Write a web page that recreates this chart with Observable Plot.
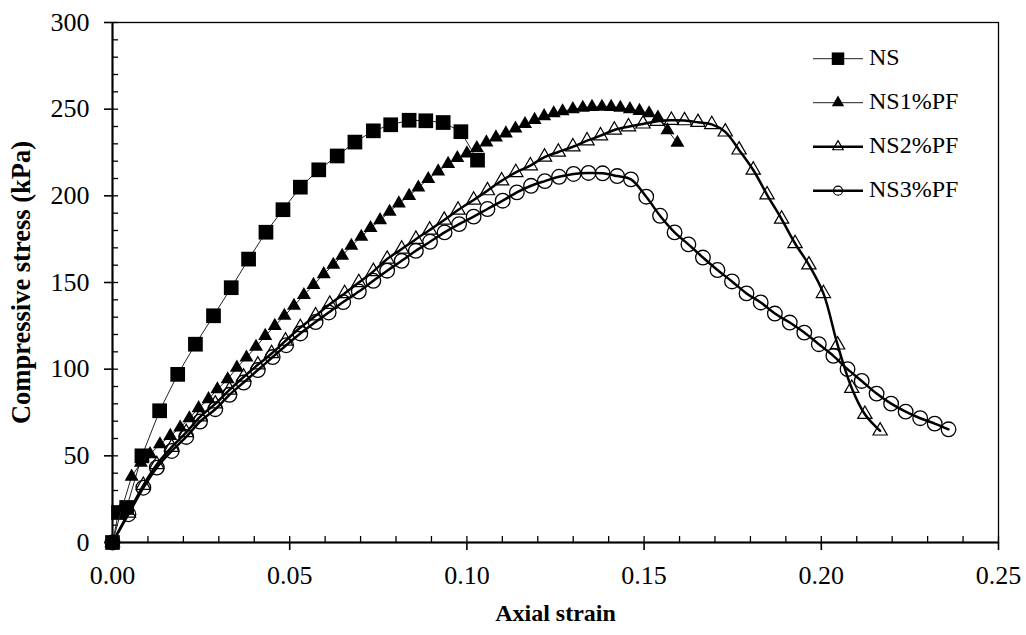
<!DOCTYPE html>
<html>
<head>
<meta charset="utf-8">
<script src="https://cdn.jsdelivr.net/npm/d3@7"></script>
<script src="https://cdn.jsdelivr.net/npm/@observablehq/plot@0.6"></script>
<style>
html, body { margin: 0; padding: 0; background: #fff; }
#chart { width: 1026px; height: 635px; }
</style>
</head>
<body>
<div id="chart"></div>
<script>
// ---------- data ----------
const seriesNames = ["NS", "NS1%PF", "NS2%PF", "NS3%PF"];

const nsStrain = [0, 0.0017, 0.004, 0.0083, 0.0133, 0.0184, 0.0234, 0.0285, 0.0335, 0.0384, 0.0433, 0.0481, 0.053, 0.0582, 0.0634, 0.0684, 0.0736, 0.0785, 0.0837, 0.0884, 0.0933, 0.0983, 0.103];
const nsStress = [0, 17.3, 20.2, 50, 76, 97, 114.4, 130.8, 147, 163.5, 179, 192, 205, 215, 223, 231, 237.5, 241, 243.6, 243.3, 242.3, 237, 220.6];

const ns1Strain = [0, 0.0027, 0.0054, 0.008, 0.0106, 0.0134, 0.0163, 0.0191, 0.0217, 0.0243, 0.0271, 0.0296, 0.0325, 0.0351, 0.0378, 0.0405, 0.0431, 0.0458, 0.0485, 0.0512, 0.054, 0.0567, 0.0596, 0.0623, 0.0648, 0.0674, 0.0702, 0.0728, 0.0755, 0.0782, 0.0808, 0.0837, 0.0863, 0.0891, 0.0919, 0.0947, 0.0973, 0.1, 0.1028, 0.1055, 0.1082, 0.111, 0.1137, 0.1164, 0.1191, 0.1218, 0.1245, 0.127, 0.1299, 0.1327, 0.1353, 0.1381, 0.1407, 0.1433, 0.146, 0.1487, 0.1514, 0.1539, 0.1566, 0.1594];
const ns1Stress = [0, 20, 38, 46, 51, 56.7, 61.5, 66.3, 71.7, 77.5, 82.7, 88.4, 94.2, 100.9, 106.7, 112.9, 119.2, 125, 130.8, 136.6, 142.8, 148.6, 154.8, 160.2, 165.4, 171.2, 176.4, 181.4, 186, 190.8, 195.6, 200, 204.8, 209.7, 214.1, 218.4, 221.8, 224.5, 227.6, 230.8, 233.7, 236, 238.8, 241.4, 243.8, 246, 247.6, 248.8, 250, 250.8, 251.3, 251.4, 251.3, 250.8, 250, 249, 247.6, 245.2, 237.8, 230.6];

const ns2Strain = [0, 0.0045, 0.0087, 0.0125, 0.0167, 0.0208, 0.0247, 0.029, 0.033, 0.037, 0.041, 0.0449, 0.0488, 0.053, 0.0573, 0.0613, 0.0655, 0.0695, 0.0736, 0.0775, 0.0816, 0.0856, 0.0895, 0.0936, 0.0975, 0.1019, 0.1058, 0.1098, 0.1138, 0.1179, 0.1219, 0.1258, 0.1299, 0.1339, 0.1377, 0.1416, 0.1456, 0.1497, 0.1537, 0.1577, 0.1614, 0.1652, 0.1691, 0.1729, 0.1768, 0.1808, 0.1847, 0.1888, 0.1926, 0.1965, 0.2006, 0.2046, 0.2086, 0.2123, 0.2166];
const ns2Stress = [0, 17, 33, 45, 55, 63.5, 72.5, 80, 88, 95.5, 102.5, 109, 116.3, 124, 130.8, 137.5, 143.7, 150, 156.4, 163.5, 169.3, 175, 180.3, 186, 191.8, 197.6, 203, 208.7, 213.5, 217.4, 222.4, 225.3, 228.3, 231.8, 234.7, 238, 239.9, 241.5, 243, 243.6, 243.4, 242.4, 241.2, 236.9, 226.5, 214.9, 200.6, 186.6, 172.5, 160.2, 143.7, 114, 89, 74, 64.4];

const ns3Strain = [0, 0.0045, 0.0087, 0.0125, 0.0167, 0.0208, 0.0247, 0.029, 0.033, 0.037, 0.041, 0.0452, 0.049, 0.053, 0.0573, 0.061, 0.0651, 0.0695, 0.0736, 0.0775, 0.0816, 0.0856, 0.0896, 0.0937, 0.0978, 0.1019, 0.1058, 0.1101, 0.1141, 0.1181, 0.122, 0.126, 0.1301, 0.1343, 0.1383, 0.1424, 0.1463, 0.1506, 0.1545, 0.1586, 0.1625, 0.1666, 0.1707, 0.1748, 0.1789, 0.1829, 0.1869, 0.1911, 0.1952, 0.1993, 0.2034, 0.2074, 0.2114, 0.2156, 0.2197, 0.2238, 0.2279, 0.232, 0.2359];
const ns3Stress = [0, 16.3, 31.6, 43.2, 52.8, 60.9, 69.8, 76.9, 85.2, 92.3, 99.5, 107, 113.8, 120.6, 127.2, 132.7, 138.7, 144.8, 151, 156.8, 162.5, 168.3, 173.5, 178.9, 183.7, 188, 192.4, 197.2, 202, 205.8, 208.5, 211, 212.6, 213.2, 213, 211.4, 209.5, 199.5, 188.5, 178.9, 172, 164.4, 157.2, 150.6, 143.7, 138.5, 132.1, 126.9, 121.1, 114.4, 107.7, 100, 93.2, 85.9, 80.1, 75.5, 71.7, 68.6, 65.3];

const xMajorTicks = [0, 0.05, 0.10, 0.15, 0.20, 0.25];
const xMinorTicks = [0, 0.01, 0.02, 0.03, 0.04, 0.05, 0.06, 0.07, 0.08, 0.09, 0.10, 0.11, 0.12, 0.13, 0.14, 0.15, 0.16, 0.17, 0.18, 0.19, 0.20, 0.21, 0.22, 0.23, 0.24, 0.25];
const yMajorTicks = [0, 50, 100, 150, 200, 250, 300];
const yMinorTicks = [0, 10, 20, 30, 40, 50, 60, 70, 80, 90, 100, 110, 120, 130, 140, 150, 160, 170, 180, 190, 200, 210, 220, 230, 240, 250, 260, 270, 280, 290, 300];
const xTitle = "Axial strain";
const yTitle = "Compressive stress (kPa)";

// ---------- build ----------
const rows = (xs, ys) => xs.map((x, i) => ({x, y: ys[i]}));
const NS = rows(nsStrain, nsStress);
const NS1 = rows(ns1Strain, ns1Stress);
const NS2 = rows(ns2Strain, ns2Stress);
const NS3 = rows(ns3Strain, ns3Stress);

const FONT = "'Liberation Serif', 'Times New Roman', serif";

const chart = Plot.plot({
  width: 1026,
  height: 635,
  marginLeft: 112,
  marginRight: 28,
  marginTop: 22,
  marginBottom: 93,
  style: {fontFamily: FONT, background: "white", color: "black", overflow: "visible"},
  x: {domain: [0, 0.25]},
  y: {domain: [0, 300]},
  marks: [
    Plot.frame({stroke: "black", strokeWidth: 1.3}),
    Plot.axisX({ticks: xMinorTicks, tickSize: -6, tickFormat: () => "", strokeWidth: 1.3, label: null}),
    Plot.axisX({ticks: xMajorTicks, tickSize: 8, tickPadding: 15, tickFormat: d3.format(".2f"), fontSize: 26, strokeWidth: 1.6, label: null}),
    Plot.axisY({ticks: yMinorTicks, tickSize: -6, tickFormat: () => "", strokeWidth: 1.3, label: null}),
    Plot.axisY({ticks: yMajorTicks, tickSize: 8, tickPadding: 15, tickFormat: d3.format("d"), fontSize: 26, strokeWidth: 1.6, label: null}),
    Plot.ruleX([0], {stroke: "black", strokeWidth: 2}),
    Plot.ruleY([0], {stroke: "black", strokeWidth: 2}),

    Plot.line(NS, {x: "x", y: "y", stroke: "#222", strokeWidth: 1}),
    Plot.dot(NS, {x: "x", y: "y", symbol: "square", r: 8.3, fill: "black", stroke: "none"}),

    Plot.line(NS1, {x: "x", y: "y", stroke: "#222", strokeWidth: 1}),
    Plot.dot(NS1, {x: "x", y: "y", symbol: "triangle", r: 5.2, fill: "black", stroke: "none"}),

    Plot.line(NS2, {x: "x", y: "y", stroke: "black", strokeWidth: 2.5, curve: "catmull-rom"}),
    Plot.dot(NS2, {x: "x", y: "y", symbol: "triangle", r: 5.3, fill: "none", stroke: "black", strokeWidth: 1.2}),

    Plot.line(NS3, {x: "x", y: "y", stroke: "black", strokeWidth: 2.5, curve: "catmull-rom"}),
    Plot.dot(NS3, {x: "x", y: "y", symbol: "circle", r: 7.3, fill: "none", stroke: "black", strokeWidth: 1.3}),

    Plot.text([xTitle], {text: d => d, frameAnchor: "bottom", dy: 78, fontSize: 24, fontWeight: "bold", fill: "black"}),
    Plot.text([yTitle], {text: d => d, frameAnchor: "left", textAnchor: "middle", dx: -91, rotate: -90, fontSize: 26.5, fontWeight: "bold", fill: "black"})
  ]
});

document.getElementById("chart").appendChild(chart);

// ---------- legend (inside plot, top right) ----------
const svg = d3.select(chart);
const legendItems = [
  {name: seriesNames[0], sym: d3.symbolSquare, size: 12.5 * 12.5, fill: "black", stroke: "none", lw: 1},
  {name: seriesNames[1], sym: d3.symbolTriangle, size: Math.PI * 4.6 * 4.6, fill: "black", stroke: "none", lw: 1},
  {name: seriesNames[2], sym: d3.symbolTriangle, size: Math.PI * 3.9 * 3.9, fill: "none", stroke: "black", lw: 2.5},
  {name: seriesNames[3], sym: d3.symbolCircle, size: Math.PI * 4.5 * 4.5, fill: "none", stroke: "black", lw: 2.5}
];
const lg = svg.append("g").attr("font-family", FONT).attr("font-size", 24).attr("text-anchor", "start");
legendItems.forEach((it, i) => {
  const cy = 58.7 + i * 44;
  const g = lg.append("g").attr("transform", `translate(0,${cy})`);
  g.append("line").attr("x1", 813).attr("x2", 863).attr("y1", 0).attr("y2", 0)
    .attr("stroke", i < 2 ? "#222" : "black").attr("stroke-width", it.lw);
  g.append("path").attr("transform", "translate(838,0)")
    .attr("d", d3.symbol(it.sym, it.size)())
    .attr("fill", it.fill).attr("stroke", it.stroke).attr("stroke-width", 1.2);
  g.append("text").attr("x", 869).attr("y", -1.5).attr("dominant-baseline", "central")
    .attr("text-anchor", "start").attr("fill", "black").text(it.name);
});
</script>
</body>
</html>
